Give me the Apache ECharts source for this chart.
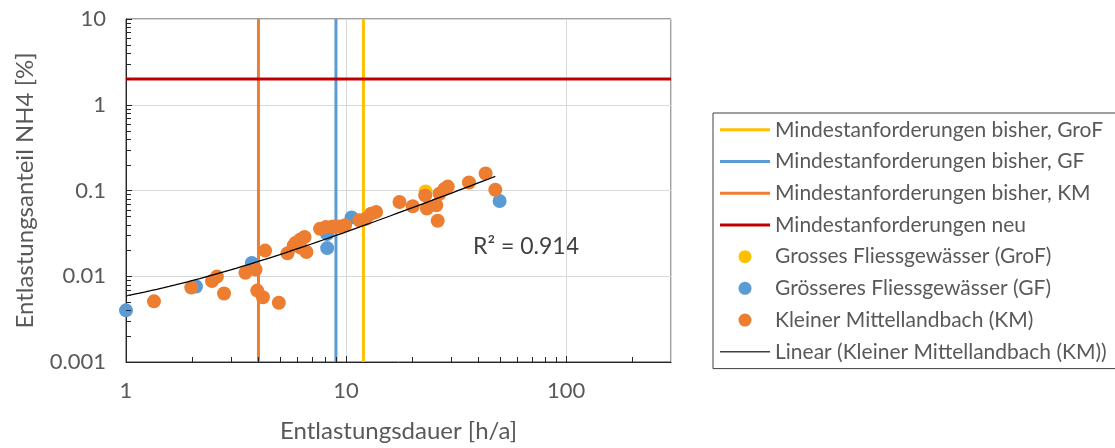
<!DOCTYPE html>
<html><head><meta charset="utf-8">
<script src="https://cdn.jsdelivr.net/npm/echarts@6/dist/echarts.min.js"></script>
<style>html,body{margin:0;padding:0;background:#fff}#c{width:1115px;height:448px}</style>
</head><body><div id="c"></div>
<script>
// ---- data ----
const groF_x = [23.0];
const groF_y = [0.0976];

const gf_x = [1.0, 2.08, 3.73, 8.2, 8.21, 10.6, 49.9];
const gf_y = [0.0040, 0.0076, 0.0143, 0.0310, 0.0213, 0.0485, 0.0753];

const km_x = [1.34, 1.98, 2.46, 2.59, 2.79, 3.49, 3.88, 3.95, 4.19, 4.29, 4.95, 5.42, 5.78, 5.89, 6.2, 6.24, 6.48, 6.61,
              7.62, 8.1, 8.7, 9.3, 9.9, 11.5, 12.3, 13.0, 13.7, 17.5, 20.1, 22.9, 23.3, 25.7, 26.1, 26.6, 28.0, 29.0, 36.2, 43.1, 47.7];
const km_y = [0.0051, 0.0074, 0.0088, 0.0099, 0.0063, 0.0110, 0.0120, 0.0068, 0.0057, 0.0199, 0.0049, 0.0185, 0.0227, 0.0245, 0.0268, 0.0215, 0.0287, 0.0192,
              0.0358, 0.0375, 0.0380, 0.0380, 0.0393, 0.0450, 0.0468, 0.0535, 0.0563, 0.0734, 0.0655, 0.0877, 0.0615, 0.0673, 0.0443, 0.0915, 0.1040, 0.1110, 0.1240, 0.1580, 0.1020];

const limit_GroF = 12;   // h/a
const limit_GF = 9;      // h/a
const limit_KM = 4;      // h/a
const limit_neu = 2;     // %

// Excel linear trendline of KM (coefficients)
const trend_slope = 0.00300;
const trend_intercept = 0.0029;
const trend_from = 1;
const r2_label = 'R² = 0.914';

const X_MIN = 1, X_MAX = 300;
const Y_MIN = 0.001, Y_MAX = 10;

const xMinorTicks = [2,3,4,5,6,7,8,9,20,30,40,50,60,70,80,90,200];
const yMinorTicks = [0.002,0.003,0.004,0.005,0.006,0.007,0.008,0.009,
                     0.02,0.03,0.04,0.05,0.06,0.07,0.08,0.09,
                     0.2,0.3,0.4,0.5,0.6,0.7,0.8,0.9,
                     2,3,4,5,6,7,8,9];

const names = {
  lGroF: 'Mindestanforderungen bisher, GroF',
  lGF: 'Mindestanforderungen bisher, GF',
  lKM: 'Mindestanforderungen bisher, KM',
  lNeu: 'Mindestanforderungen neu',
  sGroF: 'Grosses Fliessgewässer (GroF)',
  sGF: 'Grösseres Fliessgewässer (GF)',
  sKM: 'Kleiner Mittellandbach (KM)',
  trend: 'Linear (Kleiner Mittellandbach (KM))'
};

// trendline y = slope*x + intercept over the KM x-range (curved on log axes)
const trendEnd = Math.max(...km_x);
const trendData = [];
const STEPS = 60;
for (let i=0;i<=STEPS;i++){
  const x = trend_from * Math.pow(trendEnd/trend_from, i/STEPS);
  trendData.push([x, trend_intercept + trend_slope*x]);
}

const zip = (xs, ys) => xs.map((x,i)=>[x, ys[i]]);
const FONT = 'Lato';
const TXT = '#595959';
const AX = '#262626';
const LINE_ICON = 'path://M0,0H50V3H0Z';
const THIN_ICON = 'path://M0,0H50V1.3H0Z';

const chart = echarts.init(document.getElementById('c'), null, {renderer:'canvas'});
chart.setOption({
  animation: false,
  grid: { left: 126, top: 19, width: 545, height: 348, show: true, borderColor: '#404040', borderWidth: 1, containLabel: false },
  xAxis: {
    type: 'log', logBase: 10, min: X_MIN, max: X_MAX,
    name: 'Entlastungsdauer [h/a]', nameLocation: 'middle', nameGap: 57,
    nameTextStyle: { fontFamily: FONT, fontSize: 24, color: TXT },
    axisLine: { show: true, lineStyle: { color: AX, width: 1 } },
    axisTick: { show: true, inside: true, length: 6, lineStyle: { color: AX } },
    axisLabel: { fontFamily: FONT, fontSize: 22, color: TXT, margin: 18, showMaxLabel: false },
    splitLine: { show: true, lineStyle: { color: '#D9D9D9', width: 1 } }
  },
  yAxis: {
    type: 'log', logBase: 10, min: Y_MIN, max: Y_MAX,
    name: 'Entlastungsanteil NH4 [%]', nameLocation: 'middle', nameGap: 89,
    nameTextStyle: { fontFamily: FONT, fontSize: 24, color: TXT },
    axisLine: { show: true, lineStyle: { color: AX, width: 1 } },
    axisTick: { show: true, inside: true, length: 6, lineStyle: { color: AX } },
    axisLabel: { fontFamily: FONT, fontSize: 22, color: TXT, margin: 20 },
    splitLine: { show: true, lineStyle: { color: '#D9D9D9', width: 1 } }
  },
  legend: {
    orient: 'vertical', left: 713, top: 113,
    padding: [1, 30, 1, 7], itemGap: 0, itemWidth: 50, itemHeight: 13,
    borderColor: '#404040', borderWidth: 1,
    itemStyle: { borderWidth: 0 },
    textStyle: { fontFamily: FONT, fontSize: 21, color: TXT, lineHeight: 31.7 },
    data: [
      { name: names.lGroF, icon: LINE_ICON },
      { name: names.lGF, icon: LINE_ICON },
      { name: names.lKM, icon: LINE_ICON },
      { name: names.lNeu, icon: LINE_ICON },
      { name: names.sGroF, icon: 'circle' },
      { name: names.sGF, icon: 'circle' },
      { name: names.sKM, icon: 'circle' },
      { name: names.trend, icon: THIN_ICON }
    ]
  },
  graphic: [
    { type: 'text', left: 473, top: 235, style: { text: r2_label, font: '23px Lato', fill: '#404040' } }
  ],
  series: [
    { name: names.lGroF, type: 'line', symbol: 'none', data: [[limit_GroF, Y_MIN],[limit_GroF, Y_MAX]],
      lineStyle: { color: '#FFC000', width: 3 }, itemStyle: { color: '#FFC000' }, z: 2 },
    { name: names.lGF, type: 'line', symbol: 'none', data: [[limit_GF, Y_MIN],[limit_GF, Y_MAX]],
      lineStyle: { color: '#5B9BD5', width: 3 }, itemStyle: { color: '#5B9BD5' }, z: 2 },
    { name: names.lKM, type: 'line', symbol: 'none', data: [[limit_KM, Y_MIN],[limit_KM, Y_MAX]],
      lineStyle: { color: '#ED7D31', width: 3 }, itemStyle: { color: '#ED7D31' }, z: 2 },
    { name: names.lNeu, type: 'line', symbol: 'none', data: [[X_MIN, limit_neu],[X_MAX, limit_neu]],
      lineStyle: { color: '#C00000', width: 3 }, itemStyle: { color: '#C00000' }, z: 2 },
    { name: names.sGroF, type: 'scatter', symbol: 'circle', symbolSize: 14, data: zip(groF_x, groF_y),
      itemStyle: { color: '#FFC000', opacity: 1 }, z: 3 },
    { name: names.sGF, type: 'scatter', symbol: 'circle', symbolSize: 14, data: zip(gf_x, gf_y),
      itemStyle: { color: '#5B9BD5', opacity: 1 }, z: 3 },
    { name: names.sKM, type: 'scatter', symbol: 'circle', symbolSize: 14, data: zip(km_x, km_y),
      itemStyle: { color: '#ED7D31', opacity: 1 }, z: 3 },
    { name: names.trend, type: 'line', symbol: 'none', data: trendData,
      lineStyle: { color: '#000000', width: 1.3 }, itemStyle: { color: '#404040' }, z: 4 },
    { name: 'xMinor', type: 'custom', silent: true, clip: false, z: 5,
      data: xMinorTicks.map(v => [v, Y_MIN]),
      renderItem: (params, api) => {
        const p = api.coord([api.value(0), api.value(1)]);
        const x = Math.round(p[0]) + 0.5;
        return { type: 'line', shape: { x1: x, y1: p[1], x2: x, y2: p[1] - 5 }, style: { stroke: AX, lineWidth: 1 } };
      } },
    { name: 'yMinor', type: 'custom', silent: true, clip: false, z: 5,
      data: yMinorTicks.map(v => [X_MIN, v]),
      renderItem: (params, api) => {
        const p = api.coord([api.value(0), api.value(1)]);
        const y = Math.round(p[1]) + 0.5;
        return { type: 'line', shape: { x1: p[0], y1: y, x2: p[0] + 5, y2: y }, style: { stroke: AX, lineWidth: 1 } };
      } }
  ]
});
</script>
</body></html>
